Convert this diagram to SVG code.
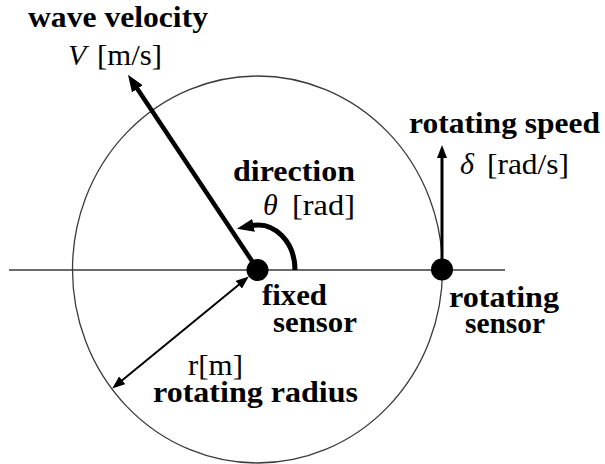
<svg xmlns="http://www.w3.org/2000/svg" width="605" height="464" viewBox="0 0 605 464">
<defs>
<style>
.b{font-family:'Liberation Serif','DejaVu Serif','Times New Roman',serif;font-weight:bold;font-size:29px;fill:#000}
.r{font-family:'Liberation Serif','DejaVu Serif','Times New Roman',serif;font-size:29px;fill:#000}
.i{font-family:'Liberation Serif','DejaVu Serif','Times New Roman',serif;font-style:italic;font-size:30px;fill:#000}
.thin{fill:none;stroke:#3a3a3a;stroke-width:1.3}
.arr{fill:none;stroke:#000}
</style>
<marker id="headBig" markerUnits="userSpaceOnUse" markerWidth="17" markerHeight="13" refX="2" refY="6.5" orient="auto">
<path d="M0,0 L17,6.5 L0,13 z" fill="#000"/>
</marker>
<marker id="headMid" markerUnits="userSpaceOnUse" markerWidth="13" markerHeight="10" refX="2" refY="5" orient="auto-start-reverse">
<path d="M0,0 L13,5 L0,10 z" fill="#000"/>
</marker>
</defs>
<rect width="605" height="464" fill="#fff"/>
<g id="circle">
<ellipse class="thin" cx="257.5" cy="269.5" rx="185" ry="193.5"/>
</g>
<g id="axis">
<line class="thin" x1="9" y1="270" x2="505" y2="270"/>
</g>
<g id="connectors">
<line class="arr" x1="258" y1="270" x2="136.3" y2="87.2" stroke-width="4.5" marker-end="url(#headBig)"/>
<path class="arr" d="M295,270 A37,45 0 0 0 251.6,225.7" stroke-width="5" marker-end="url(#headBig)"/>
<line class="arr" x1="442" y1="262" x2="442" y2="156" stroke-width="3" marker-end="url(#headMid)"/>
<line class="arr" x1="240.3" y1="283.4" x2="120.7" y2="381.6" stroke-width="2" marker-start="url(#headMid)" marker-end="url(#headMid)"/>
</g>
<g id="fixed-sensor">
<circle cx="257.5" cy="270" r="11" fill="#000"/>
<text class="b" x="262" y="305" textLength="65" lengthAdjust="spacingAndGlyphs">fixed</text>
<text class="b" x="273" y="332" textLength="84" lengthAdjust="spacingAndGlyphs">sensor</text>
</g>
<g id="rotating-sensor">
<circle cx="442" cy="269.5" r="11" fill="#000"/>
<text class="b" x="449" y="307" textLength="110" lengthAdjust="spacingAndGlyphs">rotating</text>
<text class="b" x="465" y="333" textLength="80" lengthAdjust="spacingAndGlyphs">sensor</text>
</g>
<g id="wave-velocity">
<text class="b" x="28" y="27" textLength="180" lengthAdjust="spacingAndGlyphs">wave velocity</text>
<text class="i" x="68" y="65">V</text>
<text class="r" x="97" y="65" textLength="65" lengthAdjust="spacingAndGlyphs">[m/s]</text>
</g>
<g id="direction">
<text class="b" x="233" y="181" textLength="122" lengthAdjust="spacingAndGlyphs">direction</text>
<text class="i" x="263" y="215">θ</text>
<text class="r" x="292" y="215" textLength="63" lengthAdjust="spacingAndGlyphs">[rad]</text>
</g>
<g id="rotating-speed">
<text class="b" x="409" y="133" textLength="191" lengthAdjust="spacingAndGlyphs">rotating speed</text>
<text class="i" x="460" y="174">δ</text>
<text class="r" x="487" y="174" textLength="82" lengthAdjust="spacingAndGlyphs">[rad/s]</text>
</g>
<g id="rotating-radius">
<text class="r" x="188" y="375" textLength="55" lengthAdjust="spacingAndGlyphs">r[m]</text>
<text class="b" x="153" y="402" textLength="205" lengthAdjust="spacingAndGlyphs">rotating radius</text>
</g>
</svg>
